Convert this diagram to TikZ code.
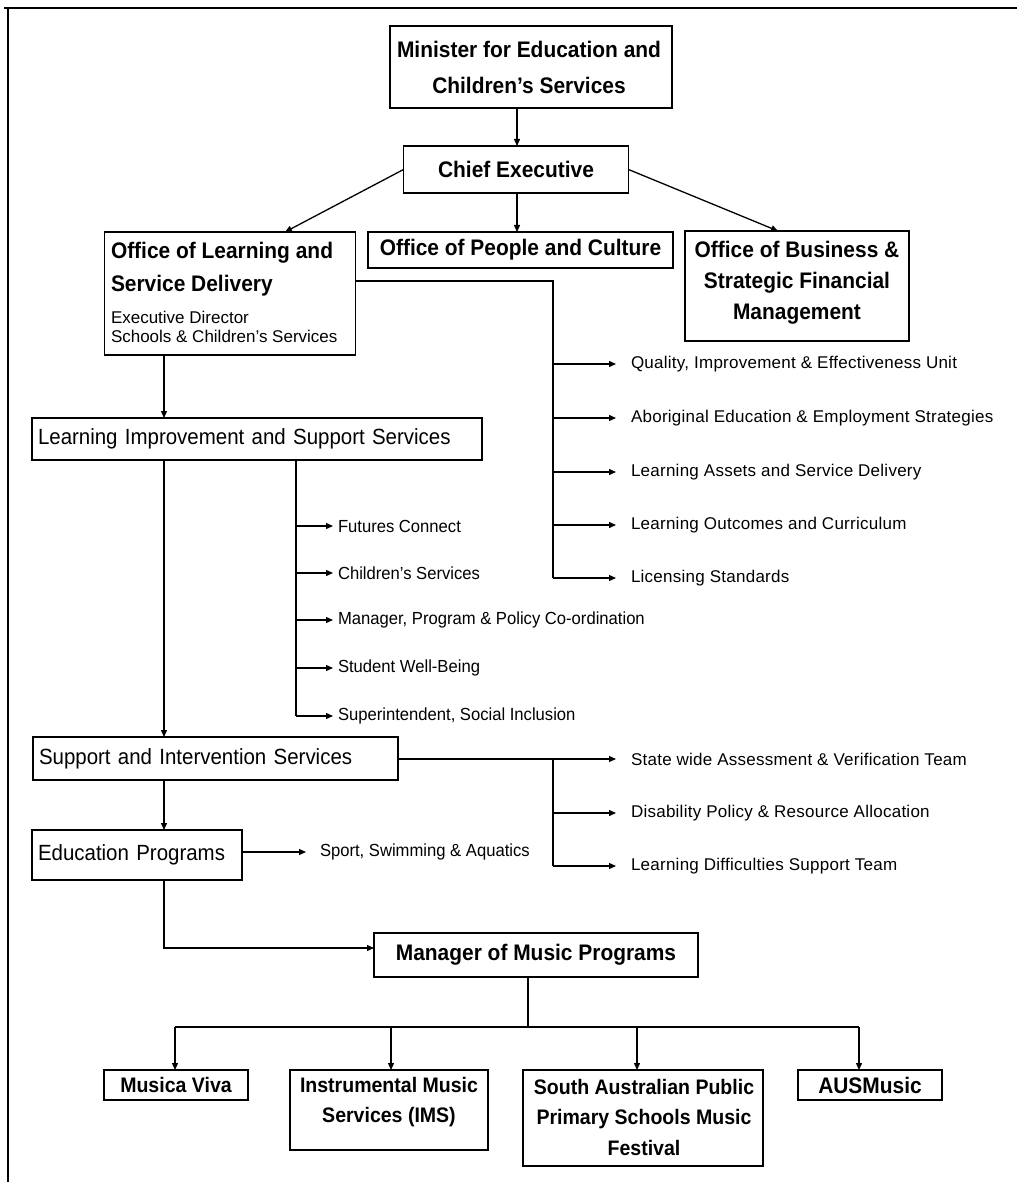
\documentclass[tikz,border=0pt]{standalone}
\usepackage{fontspec}
\setmainfont{Liberation Sans}
\newfontfamily\tfont[FakeStretch=0.93]{Liberation Sans}
\newfontfamily\rfont[LetterSpace=1.5]{Liberation Sans}
\newfontfamily\mfont[FakeStretch=0.95]{Liberation Sans}
\usetikzlibrary{arrows.meta,calc}
\begin{document}
\begin{tikzpicture}[x=1pt,y=-1pt,
  every node/.style={inner sep=0pt, outer sep=0pt},
  box/.style={draw, line width=1.3pt, rectangle},
  ttl/.style={font=\fontsize{22.5}{31}\tfont\bfseries},
  sttl/.style={font=\fontsize{21}{30}\tfont\bfseries},
  big/.style={font=\fontsize{22}{26}\tfont},
  lbl/.style={font=\fontsize{17}{20}\rfont, anchor=west},
  mlbl/.style={font=\fontsize{17.5}{20}\mfont, anchor=west},
  con/.style={line width=1.3pt},
  arr/.style={line width=1.3pt, -{Triangle[length=7pt,width=6pt]}}]
\useasboundingbox (0,0) rectangle (1017,1182);
% frame
\draw[line width=1.5pt] (4,8) -- (1017,8);
\draw[line width=1.5pt] (8,8) -- (8,1182);

% boxes
\node[box, minimum width=282pt, minimum height=82pt] (min) at (531,67) {};
\node[ttl, align=center, font=\fontsize{22.5}{36}\tfont\bfseries] (mint) at (529,67)
  {Minister for Education and\\Children’s Services};
\node[box, ttl, minimum width=225pt, minimum height=47pt] (ce) at (516,169.5) {Chief Executive};
\node[box, minimum width=251pt, minimum height=123pt] (olsd) at (230,293.5) {};
\node[ttl, align=left, anchor=west, font=\fontsize{22.5}{33}\tfont\bfseries] (olsdt) at (111,269.5)
  {Office of Learning and\\Service Delivery};
\node[align=left, anchor=west, font=\fontsize{17}{19}\selectfont] (olsds) at (111,327)
  {Executive Director\\Schools \& Children’s Services};
\node[box, ttl, minimum width=305pt, minimum height=36pt] (opc) at (520.5,250) {Office of People and Culture};
\node[box, minimum width=224pt, minimum height=110pt] (obs) at (797,286) {};
\node[ttl, align=center] (obst) at (797,283)
  {Office of Business \&\\Strategic Financial\\Management};
\node[box, big, minimum width=450pt, minimum height=42pt, align=left, text width=438pt] (liss) at (257,439)
  {Learning Improvement and Support Services};
\node[box, big, minimum width=365pt, minimum height=43pt, align=left, text width=353pt] (sis) at (215.5,758.5)
  {Support and Intervention Services};
\node[box, big, minimum width=210pt, minimum height=50pt, align=left, text width=198pt] (ep) at (137,855)
  {Education Programs};
\node[box, ttl, minimum width=324pt, minimum height=44pt] (mmp) at (536,955) {Manager of Music Programs};
\node[box, sttl, minimum width=144pt, minimum height=30pt] (mv) at (176,1085) {Musica Viva};
\node[box, minimum width=198pt, minimum height=80pt] (ims) at (389,1110) {};
\node[sttl, align=center] (imst) at (389,1102) {Instrumental Music\\Services (IMS)};
\node[box, minimum width=240pt, minimum height=96pt] (sap) at (643,1118) {};
\node[sttl, align=center, font=\fontsize{21}{30.5}\tfont\bfseries] (sapt) at (644,1117)
  {South Australian Public\\Primary Schools Music\\Festival};
\node[box, ttl, minimum width=144pt, minimum height=30pt] (aus) at (870,1085) {AUSMusic};

% top connectors
\draw[arr] (min.south -| 517,0) -- (ce.north -| 517,0);
\draw[arr] (ce.west) -- (285,232);
\draw[arr] (ce.south -| 517,0) -- (opc.north -| 517,0);
\draw[arr] (ce.east) -- (778,231);

% office of learning branches
\coordinate (ob1) at (355.5,281);
\coordinate (ob2) at (553,281);
\node[lbl] (q1) at (631,364) {Quality, Improvement \& Effectiveness Unit};
\node[lbl] (q2) at (631,418) {Aboriginal Education \& Employment Strategies};
\node[lbl] (q3) at (631,472) {Learning Assets and Service Delivery};
\node[lbl] (q4) at (631,525) {Learning Outcomes and Curriculum};
\node[lbl] (q5) at (631,578) {Licensing Standards};
\draw[con] (ob1) -- (ob2) -- (ob2 |- q5.west);
\foreach \n in {q1,q2,q3,q4,q5} \draw[arr] (ob2 |- \n.west) -- ([xshift=-15pt]\n.west);

\draw[arr] (olsd.south -| 164,0) -- (liss.north -| 164,0);

% LISS branches
\coordinate (lb) at (296,460);
\node[mlbl] (f1) at (338,526) {Futures Connect};
\node[mlbl] (f2) at (338,573) {Children’s Services};
\node[mlbl] (f3) at (338,620) {Manager, Program \& Policy Co-ordination};
\node[mlbl] (f4) at (338,668) {Student Well-Being};
\node[mlbl] (f5) at (338,716) {Superintendent, Social Inclusion};
\draw[con] (lb) -- (lb |- f5.west);
\foreach \n in {f1,f2,f3,f4,f5} \draw[arr] (lb |- \n.west) -- ([xshift=-5pt]\n.west);

\draw[arr] (liss.south -| 164,0) -- (sis.north -| 164,0);

% SIS branches
\coordinate (sb) at (553,759);
\node[lbl] (s1) at (631,759) {State wide Assessment \& Verification Team};
\node[lbl] (s2) at (631,813) {Disability Policy \& Resource Allocation};
\node[lbl] (s3) at (631,866) {Learning Difficulties Support Team};
\draw[con] (sis.east |- sb) -- (sb) -- (sb |- s3.west);
\foreach \n in {s1,s2,s3} \draw[arr] (sb |- \n.west) -- ([xshift=-15pt]\n.west);

\draw[arr] (sis.south -| 164,0) -- (ep.north -| 164,0);

% EP
\node[mlbl] (sp) at (320,852) {Sport, Swimming \& Aquatics};
\draw[arr] (ep.east |- sp.west) -- ([xshift=-14pt]sp.west);
\coordinate (ec) at (164,948);
\draw[arr] (ep.south -| ec) -- (ec) -- (mmp.west |- ec);

% music
\coordinate (mb) at (528,1027);
\draw[con] (mmp.south -| mb) -- (mb);
\draw[con] (175,1027) -- (859,1027);
\draw[arr] (175,1027) -- (mv.north -| 175,0);
\draw[arr] (391,1027) -- (ims.north -| 391,0);
\draw[arr] (637,1027) -- (sap.north -| 637,0);
\draw[arr] (859,1027) -- (aus.north -| 859,0);
\end{tikzpicture}
\end{document}
